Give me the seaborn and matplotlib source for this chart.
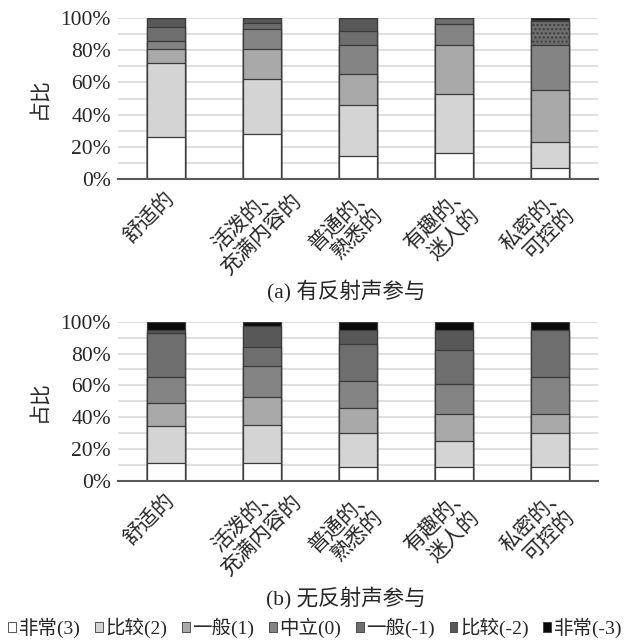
import numpy as np
import pandas as pd
import seaborn as sns
import matplotlib.pyplot as plt
import matplotlib.transforms as mtransforms
from matplotlib.patches import Patch

Levels = ["非常(3)", "比较(2)", "一般(1)", "中立(0)", "一般(-1)", "比较(-2)", "非常(-3)"]
Categories = ["舒适的", "活泼的、\n充满内容的", "普通的、\n熟悉的", "有趣的、\n迷人的", "私密的、\n可控的"]

# percentages per level, one list per category (bottom -> top)
with_reflect = {
    "舒适的": [26, 46, 8.5, 5.5, 8.5, 5.5, 0],
    "活泼的、\n充满内容的": [28, 34, 19, 12, 4, 3, 0],
    "普通的、\n熟悉的": [14, 32, 19, 18, 9, 8, 0],
    "有趣的、\n迷人的": [16, 37, 30, 13, 4, 0, 0],
    "私密的、\n可控的": [7, 16, 32, 28, 15, 1, 1],
}
no_reflect = {
    "舒适的": [11, 23.5, 14.5, 16, 28, 2, 5],
    "活泼的、\n充满内容的": [11, 24, 18, 19, 12, 13.5, 2.5],
    "普通的、\n熟悉的": [9, 21, 16, 17, 23, 9, 5],
    "有趣的、\n迷人的": [9, 16, 17, 19, 21, 13, 5],
    "私密的、\n可控的": [9, 21, 12, 23, 30, 0, 5],
}
Colors = ["#ffffff", "#d4d4d4", "#a9a9a9", "#848484", "#6e6e6e", "#585858", "#0a0a0a"]
Titles = ["(a) 有反射声参与", "(b) 无反射声参与"]

sns.set_theme(style="white")
plt.rcParams["font.family"] = ["Liberation Serif", "Noto Sans CJK SC"]
plt.rcParams["axes.unicode_minus"] = False

fig = plt.figure(figsize=(6.24, 6.43), dpi=100)
ax_top = fig.add_axes([0.189, 0.7216, 0.769, 0.2504])
ax_bot = fig.add_axes([0.189, 0.252, 0.769, 0.2477])


def draw_panel(ax, table, hatch_last=False):
    df = pd.DataFrame(table, index=Levels).T
    cum = df.cumsum(axis=1)
    for k in range(len(Levels) - 1, -1, -1):
        sns.barplot(
            x=Categories,
            y=cum[Levels[k]].values,
            color=Colors[k],
            saturation=1,
            width=0.4,
            edgecolor="#3a3a3a",
            linewidth=0.9,
            errorbar=None,
            ax=ax,
            zorder=3,
        )
        if hatch_last and Levels[k] == "一般(-1)":
            ax.patches[-1].set_hatch("....")
    ax.set_ylim(0, 100)
    ax.set_xlim(-0.5, 4.5)
    ax.set_yticks(np.arange(0, 101, 20))
    ax.set_yticks(np.arange(0, 101, 10), minor=True)
    ax.set_yticklabels([f"{v}%" for v in range(0, 101, 20)], fontsize=15.5)
    ax.grid(axis="y", which="both", color="#d9d9d9", linewidth=1.2, zorder=0)
    ax.tick_params(axis="y", which="both", length=0, pad=5)
    ax.tick_params(axis="x", which="both", length=0, pad=0)
    for s in ["left", "top", "right"]:
        ax.spines[s].set_visible(False)
    ax.spines["bottom"].set_color("#595959")
    ax.spines["bottom"].set_linewidth(1.5)
    ax.spines["bottom"].set_zorder(4)
    ax.set_xticks(range(len(Categories)))
    ax.set_xticklabels(Categories, rotation=45, ha="center", va="top",
                       rotation_mode="anchor", multialignment="center",
                       fontsize=15, linespacing=1.2)
    # shift rotated labels down-left of the tick, like the original
    shift = mtransforms.ScaledTranslation(-0.23, -0.32, fig.dpi_scale_trans)
    for lab in ax.get_xticklabels():
        lab.set_transform(lab.get_transform() + shift)
    ax.set_ylabel("占比", fontsize=15, labelpad=8)
    ax.set_xlabel("")


draw_panel(ax_top, with_reflect, hatch_last=True)
draw_panel(ax_bot, no_reflect)

fig.text(0.554, 0.547, Titles[0], ha="center", va="center", fontsize=15.5)
fig.text(0.554, 0.070, Titles[1], ha="center", va="center", fontsize=15.5)

handles = [Patch(facecolor=c, edgecolor="#3a3a3a", linewidth=0.6) for c in Colors]
fig.legend(handles, Levels, loc="center", bbox_to_anchor=(0.505, 0.023),
           ncol=7, frameon=False, fontsize=14, handlelength=0.4, handleheight=0.4,
           handletextpad=0.15, columnspacing=0.74, borderaxespad=0.0, borderpad=0.0)

fig.savefig("out.png", dpi=100)
